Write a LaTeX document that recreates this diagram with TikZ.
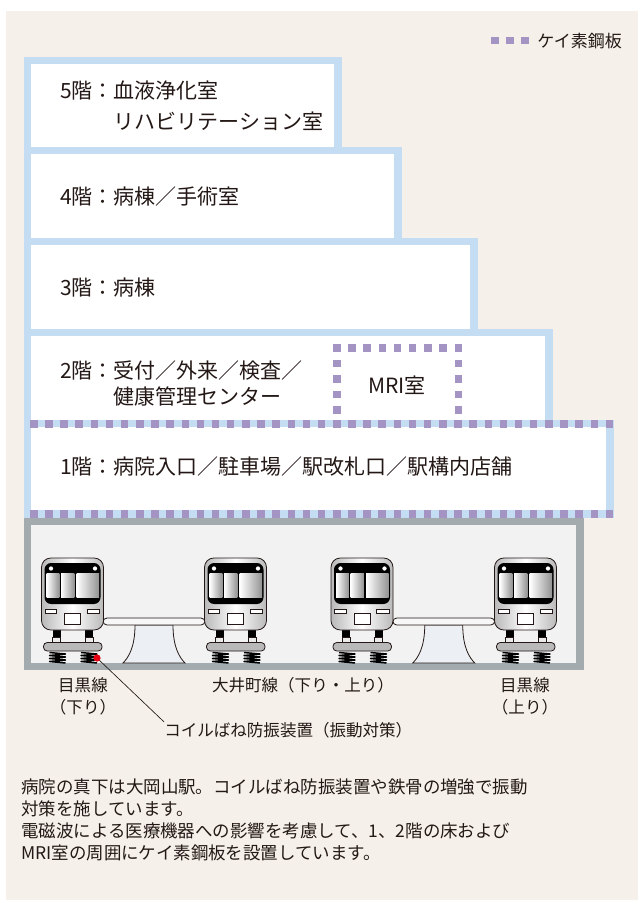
\documentclass[tikz,border=0pt]{standalone}
\usepackage{fontspec}
\setmainfont{Noto Sans CJK JP}
\usepackage{tikz}
\definecolor{paperColor}{HTML}{F5F1EA}
\definecolor{frameColor}{HTML}{C4DDF3}
\definecolor{steelColor}{HTML}{A494C4}
\definecolor{wallColor}{HTML}{A3ABAE}
\definecolor{tunnelColor}{HTML}{F2F2F2}
\definecolor{pierColor}{HTML}{ECEFF3}
\definecolor{inkColor}{HTML}{231815}
\definecolor{markColor}{HTML}{E60012}

% one train seen from the front, centred on #1
\newcommand{\trainfront}[1]{%
  \begin{scope}[shift={(#1,0)}]
    \fill[black] (-20,630) rectangle (-12,637);
    \fill[black] (12.5,630) rectangle (20.5,637);
    \draw[trainline, fill=gray!15] (-20,637) rectangle (-12,642.5);
    \draw[trainline, fill=gray!15] (12.5,637) rectangle (20.5,642.5);
    \draw[trainline, fill=gray!55, rounded corners=2.8pt] (-29,642.5) rectangle (29.5,651);
    \foreach \sx in {-15,16.5}
      \draw[spring] ({\sx-8},652.5) -- ({\sx+8},654) -- ({\sx-8},655.5) -- ({\sx+8},657) -- ({\sx-8},658.5) -- ({\sx+8},660) -- ({\sx-8},661.5) -- ({\sx+8},663);
    \draw[trainline, left color=gray!55, right color=gray!55, middle color=white, rounded corners=7pt] (-31,558) rectangle (31,630);
    \fill[black, rounded corners=5pt] (-28,563) rectangle (28,604);
    \shade[left color=white, right color=gray!85] (-25.8,573) rectangle (-13.2,597);
    \shade[left color=white, right color=gray!85] (-11.5,573) rectangle (1.8,597);
    \shade[left color=white, right color=gray!85] (4.2,573) rectangle (26.5,597);
    \fill[white] (-21.5,568.5) circle (1.6pt);
    \fill[white] (22.5,568.5) circle (1.6pt);
    \draw[trainline, fill=white] (-27.5,609) rectangle (-16,613.5);
    \draw[trainline, fill=white] (14.5,609) rectangle (27,613.5);
    \draw[trainline, fill=white] (-8,613) rectangle (8,624);
  \end{scope}}

% island platform, centred on #1
\newcommand{\platform}[1]{%
  \begin{scope}[shift={(#1,0)}]
    \draw[trainline, fill=pierColor] (-19,625) .. controls (-19,648) and (-26,658) .. (-31,663) -- (31,663) .. controls (26,658) and (19,648) .. (19,625) -- cycle;
    \draw[trainline, fill=white!94!gray, rounded corners=3pt] (-51,618) rectangle (51,625);
  \end{scope}}

\begin{document}
\begin{tikzpicture}[
  x=0.75pt, y=-0.75pt,
  floortext/.style={anchor=west, inner sep=0pt, align=left, text=inkColor,
    font=\fontsize{15.75}{22.9}\selectfont},
  smalltext/.style={inner sep=0pt, align=center, text=inkColor,
    font=\fontsize{12.4}{16.5}\selectfont},
  steelsq/.style={fill=steelColor},
  trainline/.style={draw=inkColor, line width=0.6pt},
  spring/.style={draw=black, line width=1.1pt, line join=round},
  leader/.style={draw=inkColor, line width=0.5pt}
]
  \useasboundingbox (0,0) rectangle (638,900);
  \fill[white] (0,0) rectangle (638,900);
  \fill[paperColor] (6,11) rectangle (638,900);

  % floors: blue frame, white room
  \foreach \r/\t/\b in {342/57/155, 402/147/246, 478/238/337, 553/329/428, 614/420/518}
    \fill[frameColor] (24,\t) rectangle (\r,\b);
  \foreach \r/\t/\b in {342/57/155, 402/147/246, 478/238/337, 553/329/428, 614/420/518}
    \fill[white] (31,{\t+7}) rectangle ({\r-8},{\b-8});

  % station box
  \fill[wallColor] (24,518) rectangle (584,670);
  \fill[tunnelColor] (31,525) rectangle (576,663);

  % silicon steel plates under and over the 1st floor
  \foreach \k in {0,...,38} {
    \fill[steelsq] ({30+15.15*\k},420) rectangle +(7.5,8);
    \fill[steelsq] ({30+15.15*\k},510) rectangle +(7.5,8);
  }
  % ... and round the MRI room
  \foreach \k in {0,...,8}
    \fill[steelsq] ({333+15.19*\k},344) rectangle +(7.5,7.5);
  \foreach \k in {1,...,4} {
    \fill[steelsq] (333,{344+15.5*\k}) rectangle +(7.5,7.5);
    \fill[steelsq] (454.5,{344+15.5*\k}) rectangle +(7.5,7.5);
  }

  % legend
  \foreach \k in {0,1,2}
    \fill[steelsq] ({491+15*\k},36.5) rectangle +(7.5,7.5);
  \node[smalltext, anchor=west, font=\fontsize{12.75}{15}\selectfont] (legend) at (537,41.5) {ケイ素鋼板};

  % floor names
  \node[floortext] (fifth) at (60,106) {5階：血液浄化室\\\hphantom{5階：}リハビリテーション室};
  \node[floortext] (fourth) at (60,197) {4階：病棟／手術室};
  \node[floortext] (third) at (60,288) {3階：病棟};
  \node[floortext, font=\fontsize{15.75}{19.1}\selectfont] (second) at (60,383.5) {2階：受付／外来／検査／\\\hphantom{2階：}健康管理センター};
  \node[floortext, anchor=center] (mri) at (397,385) {MRI室};
  \node[floortext] (first) at (60,467) {1階：病院入口／駐車場／駅改札口／駅構内店舗};

  % platforms and trains
  \platform{154}
  \platform{443.75}
  \foreach \cx in {72.5,235.5,362,525.5} {
    \trainfront{\cx}
  }

  % track names
  \node[smalltext] (meguroDown) at (83,696) {目黒線\\（下り）};
  \node[smalltext] (oimachi) at (303,685) {大井町線（下り・上り）};
  \node[smalltext] (meguroUp) at (525,696) {目黒線\\（上り）};

  % coil spring callout
  \coordinate (coil) at (97,658);
  \node[smalltext, anchor=west] (coilnote) at (164,730) {コイルばね防振装置（振動対策）};
  \draw[leader] (coil) -- (coilnote.north west);
  \fill[markColor] (coil) circle (2.7pt);

  \node[anchor=west, inner sep=0pt, align=left, text=inkColor, font=\fontsize{13.1}{16.5}\selectfont] (note) at (21,820) {病院の真下は大岡山駅。コイルばね防振装置や鉄骨の増強で振動\\対策を施しています。\\電磁波による医療機器への影響を考慮して、1、2階の床および\\MRI室の周囲にケイ素鋼板を設置しています。};
\end{tikzpicture}
\end{document}
